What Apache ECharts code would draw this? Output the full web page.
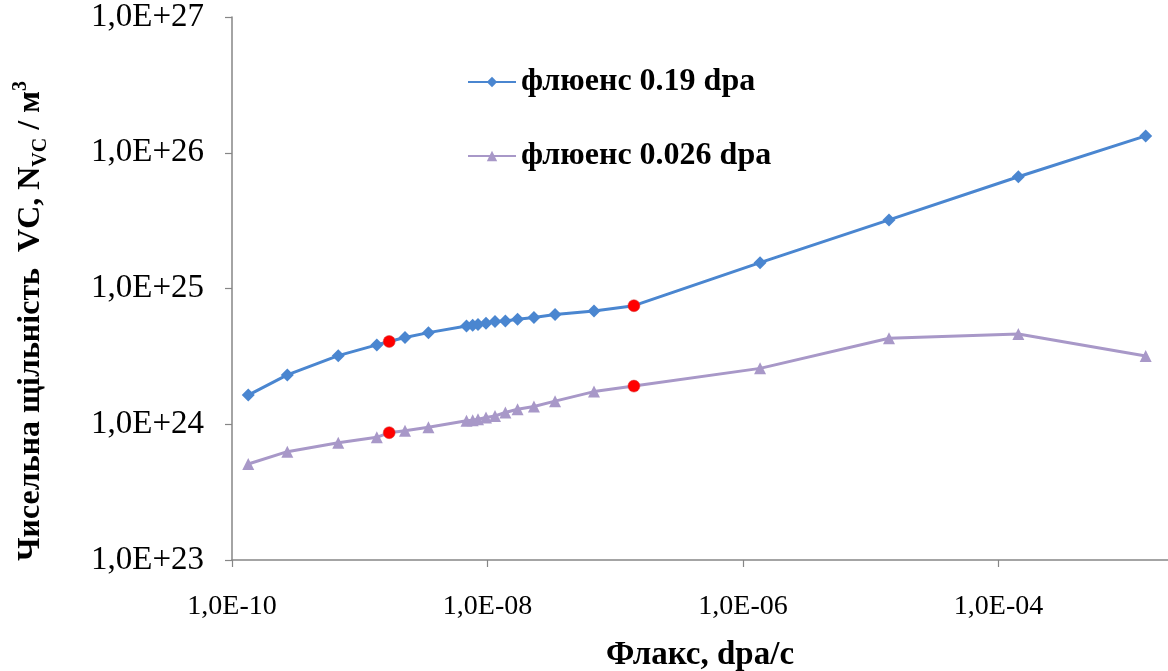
<!DOCTYPE html>
<html>
<head>
<meta charset="utf-8">
<script src="https://cdn.jsdelivr.net/npm/echarts@6/dist/echarts.min.js"></script>
<style>
html,body{margin:0;padding:0;background:#fff;}
#chart{width:1168px;height:671px;}
</style>
</head>
<body>
<div id="chart"></div>
<script>
// Flux values (dpa/s), shared by both series
const flux = [1.34e-10, 2.71e-10, 6.79e-10, 1.36e-9, 1.70e-9, 2.26e-9, 3.45e-9, 6.85e-9, 7.66e-9, 8.43e-9, 9.73e-9, 1.145e-8, 1.38e-8, 1.72e-8, 2.31e-8, 3.38e-8, 6.82e-8, 1.40e-7, 1.36e-6, 1.39e-5, 1.43e-4, 1.42e-3];
// Number density of VC, m^-3
const density019 = [1.64e24, 2.31e24, 3.20e24, 3.84e24, 4.07e24, 4.36e24, 4.73e24, 5.29e24, 5.36e24, 5.43e24, 5.54e24, 5.71e24, 5.76e24, 5.93e24, 6.11e24, 6.43e24, 6.83e24, 7.47e24, 1.55e25, 3.20e25, 6.66e25, 1.33e26];
const density0026 = [5.10e23, 6.28e23, 7.31e23, 8.01e23, 8.67e23, 8.97e23, 9.51e23, 1.06e24, 1.07e24, 1.09e24, 1.12e24, 1.15e24, 1.22e24, 1.29e24, 1.35e24, 1.48e24, 1.74e24, 1.91e24, 2.58e24, 4.30e24, 4.62e24, 3.18e24];
// Indices of points marked red
const highlighted = [4, 17];
const seriesNames = ['флюенс 0.19 dpa', 'флюенс 0.026 dpa'];
const xTickExponents = [-10, -8, -6, -4, -2];
const yTickExponents = [23, 24, 25, 26, 27];
const xTitle = 'Флакс, dpa/с';
const yTitle = 'Чисельна щільність  VC, N{sub|VC} / м{sup|3}';

const FONT = '"Liberation Serif", "Times New Roman", serif';

function buildData(ys) {
  return flux.map((x, i) => {
    const item = { value: [x, ys[i]] };
    if (highlighted.indexOf(i) >= 0) {
      item.symbol = 'circle';
      item.symbolSize = 12;
      item.itemStyle = { color: '#ff0000', borderColor: '#d04040', borderWidth: 0.5 };
    }
    return item;
  });
}

function expOf(v) { return Math.round(Math.log10(v)); }
function pad2(n) { return (n < 10 ? '0' : '') + n; }

const chart = echarts.init(document.getElementById('chart'), null, { renderer: 'canvas' });
chart.setOption({
  backgroundColor: '#ffffff',
  animation: false,
  grid: { left: 232, top: 17, bottom: 111, right: -86, containLabel: false, outerBoundsMode: 'none' },
  legend: {
    orient: 'vertical',
    left: 462,
    top: 61,
    itemWidth: 48,
    itemHeight: 13,
    itemGap: 42,
    data: seriesNames,
    textStyle: { fontFamily: FONT, fontWeight: 'bold', fontSize: 32, color: '#000' }
  },
  graphic: [
    {
      type: 'text',
      x: 31,
      y: 321,
      rotation: Math.PI / 2,
      style: {
        text: yTitle,
        fontFamily: FONT, fontWeight: 'bold', fontSize: 32, fill: '#000',
        align: 'center', verticalAlign: 'middle',
        lineHeight: 40,
        rich: {
          sub: { fontFamily: FONT, fontWeight: 'bold', fontSize: 20, fill: '#000', verticalAlign: 'bottom', lineHeight: 40, padding: [12, 0, 0, 0] },
          sup: { fontFamily: FONT, fontWeight: 'bold', fontSize: 20, fill: '#000', verticalAlign: 'top', lineHeight: 40, padding: [0, 0, 14, 0] }
        }
      }
    }
  ],
  xAxis: {
    type: 'log',
    logBase: 10,
    min: 1e-10,
    max: 1e-2,
    interval: 2,
    name: xTitle,
    nameLocation: 'middle',
    nameGap: 79,
    nameTextStyle: { fontFamily: FONT, fontWeight: 'bold', fontSize: 33, color: '#000', padding: [0, 86, 0, 0] },
    axisLine: { lineStyle: { color: '#868686', width: 1.5 } },
    axisTick: { show: true, length: 7, inside: false, lineStyle: { color: '#868686', width: 1.2 } },
    axisLabel: {
      margin: 33,
      fontFamily: FONT, fontSize: 28, color: '#000',
      formatter: v => {
        const e = expOf(v);
        if (xTickExponents.indexOf(e) < 0) return '';
        return '1,0E-' + pad2(-e);
      }
    },
    splitLine: { show: false },
    minorTick: { show: false }
  },
  yAxis: {
    type: 'log',
    logBase: 10,
    min: 1e23,
    max: 1e27,
    axisLine: { show: true, lineStyle: { color: '#868686', width: 1.5 } },
    axisTick: { show: true, length: 7, inside: false, lineStyle: { color: '#868686', width: 1.2 } },
    axisLabel: {
      margin: 28,
      fontFamily: FONT, fontSize: 33, color: '#000',
      formatter: v => {
        const e = expOf(v);
        if (yTickExponents.indexOf(e) < 0) return '';
        return '1,0E+' + e;
      }
    },
    splitLine: { show: false }
  },
  series: [
    {
      name: seriesNames[0],
      type: 'line',
      data: buildData(density019),
      symbol: 'diamond',
      symbolSize: 13,
      lineStyle: { color: '#4a86d0', width: 3 },
      itemStyle: { color: '#4a86d0' },
      z: 3
    },
    {
      name: seriesNames[1],
      type: 'line',
      data: buildData(density0026),
      symbol: 'triangle',
      symbolSize: 12,
      lineStyle: { color: '#a898c8', width: 3 },
      itemStyle: { color: '#a898c8' },
      z: 2
    }
  ]
});
</script>
</body>
</html>
